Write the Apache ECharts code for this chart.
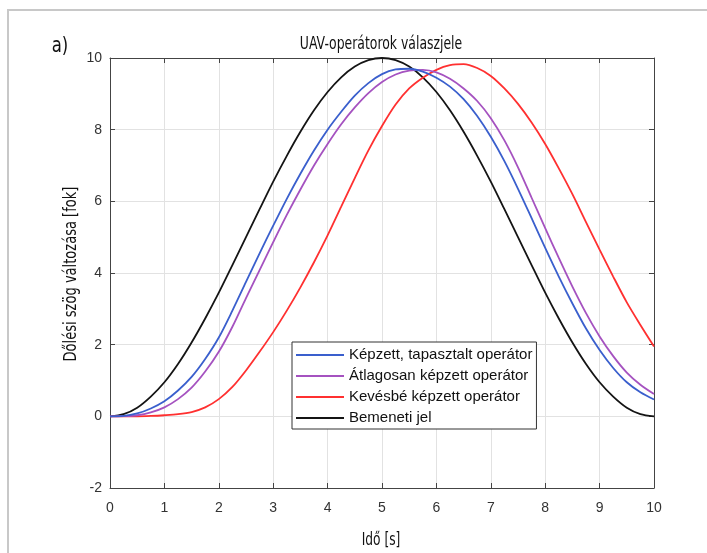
<!DOCTYPE html>
<html><head><meta charset="utf-8">
<script src="https://cdn.jsdelivr.net/npm/echarts@6/dist/echarts.min.js"></script>
<style>html,body{margin:0;padding:0;background:#fff}#c{width:707px;height:553px}</style>
</head><body><div id="c"></div>
<script>
var times = [0,0.25,0.5,0.75,1,1.25,1.5,1.75,2,2.25,2.5,2.75,3,3.25,3.5,3.75,4,4.25,4.5,4.75,5,
             5.25,5.5,5.75,6,6.25,6.5,6.75,7,7.25,7.5,7.75,8,8.25,8.5,8.75,9,9.25,9.5,9.75,10];
var kepzett = [0,0.01,0.08,0.22,0.42,0.72,1.1,1.6,2.2,2.95,3.75,4.55,5.32,6.07,6.77,7.42,8.0,8.5,8.95,9.3,9.55,
               9.68,9.7,9.62,9.45,9.2,8.85,8.38,7.8,7.12,6.35,5.53,4.7,3.9,3.15,2.45,1.85,1.35,0.95,0.67,0.47];
var atlagos = [0,0.005,0.03,0.11,0.25,0.48,0.8,1.25,1.8,2.5,3.3,4.08,4.86,5.62,6.33,7.0,7.6,8.15,8.62,9.02,9.33,
               9.54,9.65,9.67,9.6,9.42,9.15,8.8,8.32,7.7,6.95,6.1,5.25,4.42,3.62,2.88,2.23,1.68,1.22,0.88,0.62];
var kevesbe = [0,0,0,0.01,0.03,0.06,0.12,0.25,0.48,0.82,1.28,1.8,2.35,2.95,3.6,4.3,5.05,5.85,6.65,7.42,8.1,
               8.7,9.15,9.45,9.67,9.8,9.83,9.72,9.5,9.15,8.72,8.2,7.6,6.92,6.2,5.42,4.65,3.9,3.18,2.55,1.95];
var bemenet = [0,0.06,0.24,0.55,0.95,1.46,2.06,2.73,3.45,4.22,5.0,5.78,6.55,7.27,7.94,8.54,9.05,9.46,9.76,9.94,10,
               9.94,9.76,9.46,9.05,8.54,7.94,7.27,6.55,5.78,5.0,4.22,3.45,2.73,2.06,1.46,0.95,0.55,0.24,0.06,0];
var seriesNames = ['Képzett, tapasztalt operátor','Átlagosan képzett operátor','Kevésbé képzett operátor','Bemeneti jel'];
var seriesColors = ['#3a5fcd','#a552c0','#ff3030','#141414'];
var seriesData = [kepzett, atlagos, kevesbe, bemenet];

function pairs(v){ return times.map(function(t,i){ return [t, v[i]]; }); }
var chart = echarts.init(document.getElementById('c'));
var cond = '"DejaVu Sans",sans-serif';
var lab = '"Liberation Sans",Arial,sans-serif';
chart.setOption({
  animation:false,
  backgroundColor:'#fff',
  grid: {left:110, top:58, width:544, height:430},
  legend: {
    orient:'vertical', left:292, top:342, data:seriesNames,
    icon:'rect', itemWidth:48, itemHeight:2, itemGap:5,
    padding:[5,4,3,4], borderColor:'#333', borderWidth:1, backgroundColor:'#fff',
    textStyle:{fontFamily:lab, fontSize:15, color:'#111', lineHeight:16}
  },
  xAxis: [{
    type:'value', min:0, max:10, interval:1,
    axisLine:{onZero:false, lineStyle:{color:'#444', width:1}},
    axisTick:{inside:true, length:5, lineStyle:{color:'#444'}},
    axisLabel:{fontFamily:lab, fontSize:14, color:'#333', margin:13},
    splitLine:{show:true, lineStyle:{color:'#e2e2e2', width:1}}
  },{
    type:'value', min:0, max:10, interval:1, position:'top',
    axisLine:{show:true, onZero:false, lineStyle:{color:'#444'}},
    axisTick:{inside:true, length:5, lineStyle:{color:'#444'}},
    axisLabel:{show:false}, splitLine:{show:false}
  }],
  yAxis: [{
    type:'value', min:-2, max:10, interval:2,
    axisLine:{show:true, onZero:false, lineStyle:{color:'#444', width:1}},
    axisTick:{show:true, inside:true, length:5, lineStyle:{color:'#444'}},
    axisLabel:{fontFamily:lab, fontSize:14, color:'#333', margin:8},
    splitLine:{show:true, lineStyle:{color:'#e2e2e2', width:1}}
  },{
    type:'value', min:-2, max:10, interval:2, position:'right',
    axisLine:{show:true, onZero:false, lineStyle:{color:'#444'}},
    axisTick:{show:true, inside:true, length:5, lineStyle:{color:'#444'}},
    axisLabel:{show:false}, splitLine:{show:false}
  }],
  graphic: [
    {type:'line', shape:{x1:8, y1:10, x2:8, y2:553}, style:{stroke:'#c8c8c8', lineWidth:2}},
    {type:'line', shape:{x1:7, y1:10, x2:707, y2:10}, style:{stroke:'#c8c8c8', lineWidth:2}},
    {type:'text', x:60, y:46, scaleX:0.75, style:{text:'a)', font:'22px '+cond, fill:'#111', textAlign:'center', textVerticalAlign:'middle'}},
    {type:'text', x:381, y:44, scaleX:0.69, style:{text:'UAV-operátorok válaszjele', font:'18px '+cond, fill:'#111', textAlign:'center', textVerticalAlign:'middle'}},
    {type:'text', x:381, y:540, scaleX:0.68, style:{text:'Idő [s]', font:'18px '+cond, fill:'#111', textAlign:'center', textVerticalAlign:'middle'}},
    {type:'text', x:71, y:274, rotation:Math.PI/2, scaleX:0.725, style:{text:'Dőlési szög változása [fok]', font:'18px '+cond, fill:'#111', textAlign:'center', textVerticalAlign:'middle'}}
  ],
  series: seriesNames.map(function(n,i){
    return {name:n, type:'line', data:pairs(seriesData[i]), smooth:0.3, showSymbol:false,
      lineStyle:{color:seriesColors[i], width:1.8}, itemStyle:{color:seriesColors[i]}, z:10-i, xAxisIndex:0, yAxisIndex:0};
  })
});
</script></body></html>
